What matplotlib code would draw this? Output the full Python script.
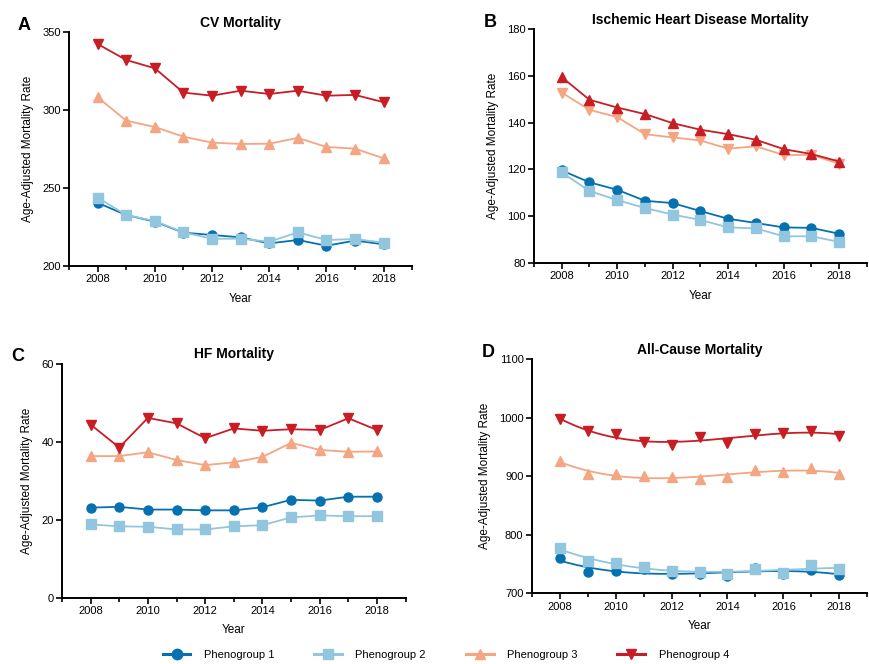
import matplotlib.pyplot as plt
from matplotlib.lines import Line2D
import numpy as np

plt.rcParams['font.family'] = ['Liberation Sans', 'DejaVu Sans']

years = np.arange(2008, 2019)
groups = ['Phenogroup 1', 'Phenogroup 2', 'Phenogroup 3', 'Phenogroup 4']
colors = ['#0571b0', '#92c5de', '#f4a582', '#c81d25']
legend_markers = ['o', 's', '^', 'v']

## A: CV mortality
cv_p1 = [240.6, 232.7, 228.5, 221.4, 219.9, 218.4, 214.5, 216.7, 213.0, 216.3, 213.9]
cv_p2 = [243.9, 232.7, 228.9, 221.6, 217.5, 217.5, 215.6, 221.6, 216.7, 217.3, 215.0]
cv_p3 = [308.3, 293.3, 289.2, 283.0, 279.2, 278.3, 278.5, 282.2, 276.4, 275.3, 269.1]
cv_p4 = [342.5, 332.2, 326.9, 311.3, 309.3, 312.5, 310.4, 312.5, 309.3, 309.8, 305.1]

## B: ischemic heart disease mortality
ihd_p1 = [119.6, 114.5, 111.3, 106.6, 105.6, 102.2, 98.9, 97.1, 95.2, 95.0, 92.5]
ihd_p2 = [118.7, 110.8, 106.9, 103.5, 100.7, 98.4, 95.2, 94.8, 91.4, 91.4, 89.0]
ihd_p3 = [152.9, 145.5, 142.4, 135.1, 133.7, 132.4, 128.9, 129.9, 126.2, 126.2, 122.5]
ihd_p4 = [159.5, 149.8, 146.5, 143.7, 139.8, 137.0, 135.1, 132.7, 128.7, 126.6, 123.4]

## C: HF mortality
hf_p1 = [23.1, 23.3, 22.6, 22.6, 22.4, 22.4, 23.2, 25.1, 24.9, 25.9, 25.9]
hf_p2 = [18.8, 18.3, 18.2, 17.5, 17.5, 18.3, 18.6, 20.6, 21.1, 20.9, 20.9]
hf_p3 = [36.3, 36.3, 37.3, 35.3, 34.0, 34.7, 36.1, 39.7, 37.9, 37.4, 37.5]
hf_p4 = [44.4, 38.5, 46.1, 44.7, 40.9, 43.4, 42.8, 43.2, 43.0, 46.0, 43.0]

## D: all-cause mortality
ac_p1 = [759.8, 735.9, 738.2, 741.0, 733.0, 733.0, 730.2, 743.3, 733.6, 739.9, 731.3]
ac_p2 = [776.9, 755.8, 751.3, 745.6, 738.7, 737.0, 733.0, 741.0, 735.3, 748.5, 741.0]
ac_p3 = [926.2, 904.0, 903.4, 901.1, 898.3, 896.0, 898.3, 910.8, 908.0, 913.7, 903.4]
ac_p4 = [997.4, 978.1, 971.8, 958.1, 953.6, 967.8, 957.5, 972.4, 973.5, 978.1, 969.5]

fig = plt.figure(figsize=(8.69, 6.64), dpi=100)

panels = [
    ('A', 'CV Mortality', [cv_p1, cv_p2, cv_p3, cv_p4], ['o', 's', '^', 'v'],
     (200, 350), [200, 250, 300, 350], [0.0794, 0.5994, 0.395, 0.352], False),
    ('B', 'Ischemic Heart Disease Mortality', [ihd_p1, ihd_p2, ihd_p3, ihd_p4], ['o', 's', 'v', '^'],
     (80, 180), [80, 100, 120, 140, 160, 180], [0.6145, 0.604, 0.383, 0.352], False),
    ('C', 'HF Mortality', [hf_p1, hf_p2, hf_p3, hf_p4], ['o', 's', '^', 'v'],
     (0, 60), [0, 20, 40, 60], [0.0713, 0.0998, 0.3955, 0.3525], False),
    ('D', 'All-Cause Mortality', [ac_p1, ac_p2, ac_p3, ac_p4], ['o', 's', '^', 'v'],
     (700, 1100), [700, 800, 900, 1000, 1100], [0.612, 0.1065, 0.386, 0.3524], True),
]

draw_order = [1, 0, 2, 3]
for letter, title, series, markers, ylim, yticks, rect, smooth in panels:
    ax = fig.add_axes(rect)
    for i in draw_order:
        vals = np.array(series[i])
        if smooth:
            ## fitted curve with scattered points
            coef = np.polyfit(years - 2013, vals, 3)
            xs = np.linspace(2008, 2018, 200)
            ax.plot(xs, np.polyval(coef, xs - 2013), color=colors[i], lw=1.3, zorder=2 + i)
            ax.plot(years, vals, ls='none', marker=markers[i], ms=6.5, color=colors[i],
                    mec=colors[i], zorder=2 + i)
        else:
            ax.plot(years, vals, marker=markers[i], ms=6.5, color=colors[i], lw=1.3,
                    mec=colors[i], zorder=2 + i)
    ax.set_xlim(2007, 2019)
    ax.set_ylim(*ylim)
    ax.set_yticks(yticks)
    ax.set_xticks(np.arange(2008, 2019, 2))
    ax.set_xticks(np.arange(2007, 2020), minor=True)
    for s in ['top', 'right']:
        ax.spines[s].set_visible(False)
    for s in ['left', 'bottom']:
        ax.spines[s].set_linewidth(1.4)
    ax.tick_params(axis='both', which='major', labelsize=8, length=4, width=1.2, pad=2)
    ax.tick_params(axis='x', which='minor', length=3, width=1.2)
    ax.set_xlabel('Year', fontsize=8.5, labelpad=6)
    ax.set_ylabel('Age-Adjusted Mortality Rate', fontsize=8.5, labelpad=6)
    ax.set_title(title, fontsize=10, fontweight='bold', pad=4)
    ax.text(-0.13, 1.03, letter, transform=ax.transAxes,
            fontsize=13, fontweight='bold', ha='center', va='center')

## legend handles with thicker lines
handles = [Line2D([], [], color=colors[i], marker=legend_markers[i], ms=7.5, lw=2.2,
                  mec=colors[i]) for i in range(4)]
fig.legend(handles, groups, loc='center', ncol=4, bbox_to_anchor=(0.513, 0.013),
           frameon=False, fontsize=8, handlelength=2.5, handletextpad=1.2,
           columnspacing=3.6)

plt.savefig('out.png', dpi=100)
